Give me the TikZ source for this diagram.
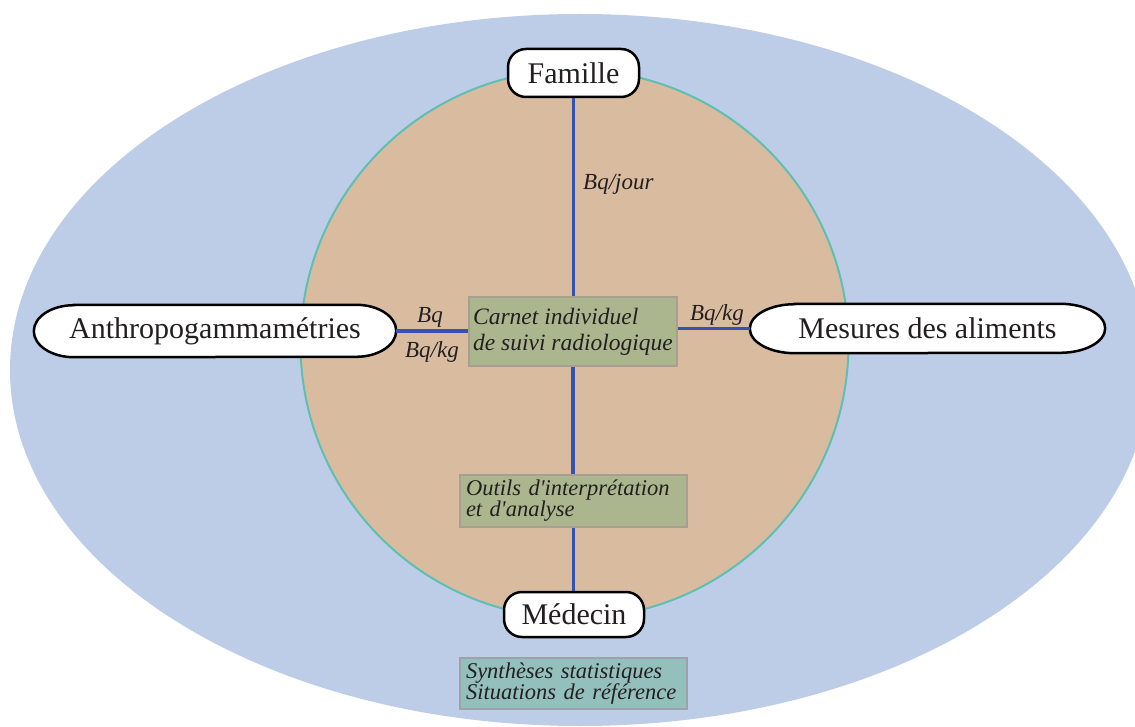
\documentclass[tikz,border=0pt]{standalone}
\usepackage{fontspec}
\setmainfont{Liberation Serif}
\definecolor{bgblue}{HTML}{BDCDE8}
\definecolor{tanfill}{HTML}{D9BCA0}
\definecolor{ringteal}{HTML}{5FBFB2}
\definecolor{linkblue}{HTML}{3652B0}
\definecolor{boxgreen}{HTML}{ABB68E}
\definecolor{boxgreenline}{HTML}{A89F92}
\definecolor{boxteal}{HTML}{93C0BD}
\definecolor{boxtealline}{HTML}{9CA3A8}
\definecolor{ink}{HTML}{231F20}
\pgfdeclarelayer{bg}
\pgfdeclarelayer{shapes}
\pgfsetlayers{bg,shapes,main}
\begin{document}
\begin{tikzpicture}[x=1pt,y=-1pt,
  pill/.style={draw=black, line width=2.5pt, fill=white, rounded corners=18pt,
    font=\fontsize{30}{34}\selectfont, text=ink, inner sep=0pt},
  ovaltext/.style={inner sep=0pt, font=\fontsize{30}{34}\selectfont, text=ink},
  ovalline/.style={draw=black, line width=2.5pt, fill=white},
  infobox/.style={draw=boxgreenline, line width=2pt, fill=boxgreen, align=left,
    text=ink, inner ysep=0pt},
  statbox/.style={infobox, draw=boxtealline, fill=boxteal},
  linkline/.style={draw=linkblue, line width=3.2pt},
  unitlabel/.style={font=\itshape\fontsize{23}{24}\selectfont, text=ink, inner sep=0pt}]
\useasboundingbox (0,0) rectangle (1135,727);
\clip (0,0) rectangle (1135,727);
\begin{pgfonlayer}{bg}
  \fill[bgblue] (580,370) ellipse [x radius=570pt, y radius=356pt];
  \draw[ringteal, line width=2pt, fill=tanfill] (574.5,344) circle [radius=274pt];
\end{pgfonlayer}

\node[pill, minimum width=131pt, minimum height=48pt] (famille) at (573.5,73) {Famille};
\node[pill, minimum width=140pt, minimum height=45pt] (medecin) at (574,614.5) {Médecin};
\node[ovaltext, minimum width=362pt, minimum height=52pt] (anthro) at (215,331) {Anthropogammamétries};
\node[ovaltext, minimum width=355pt, minimum height=49pt] (mesures) at (927.5,328.5) {Mesures des aliments};

\begin{pgfonlayer}{shapes}
  \draw[ovalline] ([xshift=40pt]anthro.north west) -- ([xshift=-40pt]anthro.north east)
    arc[start angle=90, end angle=-90, x radius=40pt, y radius=26pt]
    -- ([xshift=40pt]anthro.south west)
    arc[start angle=270, end angle=90, x radius=40pt, y radius=26pt] -- cycle;
  \draw[ovalline] ([xshift=45pt]mesures.north west) -- ([xshift=-45pt]mesures.north east)
    arc[start angle=90, end angle=-90, x radius=45pt, y radius=24.5pt]
    -- ([xshift=45pt]mesures.south west)
    arc[start angle=270, end angle=90, x radius=45pt, y radius=24.5pt] -- cycle;
\end{pgfonlayer}

\node[infobox, minimum width=208pt, inner xsep=4pt, minimum height=69pt,
  font=\itshape\fontsize{23.5}{26}\selectfont] (carnet) at (573,331.5)
  {Carnet individuel\\de suivi radiologique};
\node[infobox, text width=215pt, inner xsep=6pt, minimum height=52pt,
  font=\itshape\fontsize{22.5}{21}\selectfont] (outils) at (573.5,501)
  {Outils d\textquotesingle interprétation\\et d\textquotesingle analyse};
\node[statbox, text width=215pt, inner xsep=6pt, minimum height=51pt,
  font=\itshape\fontsize{22.5}{21}\selectfont] (synth) at (573.5,683.5)
  {Synthèses statistiques\\Situations de référence};

\draw[linkline] (famille.south) -- (famille.south |- carnet.north);
\draw[linkline] (carnet.south) -- (carnet.south |- outils.north);
\draw[linkline] (outils.south) -- (outils.south |- medecin.north);
\draw[linkline] (anthro.east) -- (anthro.east -| carnet.west);
\draw[linkline] (mesures.west) -- (mesures.west -| carnet.east);

\node[unitlabel, anchor=base west] (ljour) at (583,190) {Bq/jour};
\node[unitlabel, anchor=base] (lbq) at (430,323) {Bq};
\node[unitlabel, anchor=base] (lbqkga) at (432,357) {Bq/kg};
\node[unitlabel, anchor=base] (lbqkgb) at (717,320) {Bq/kg};
\end{tikzpicture}
\end{document}
